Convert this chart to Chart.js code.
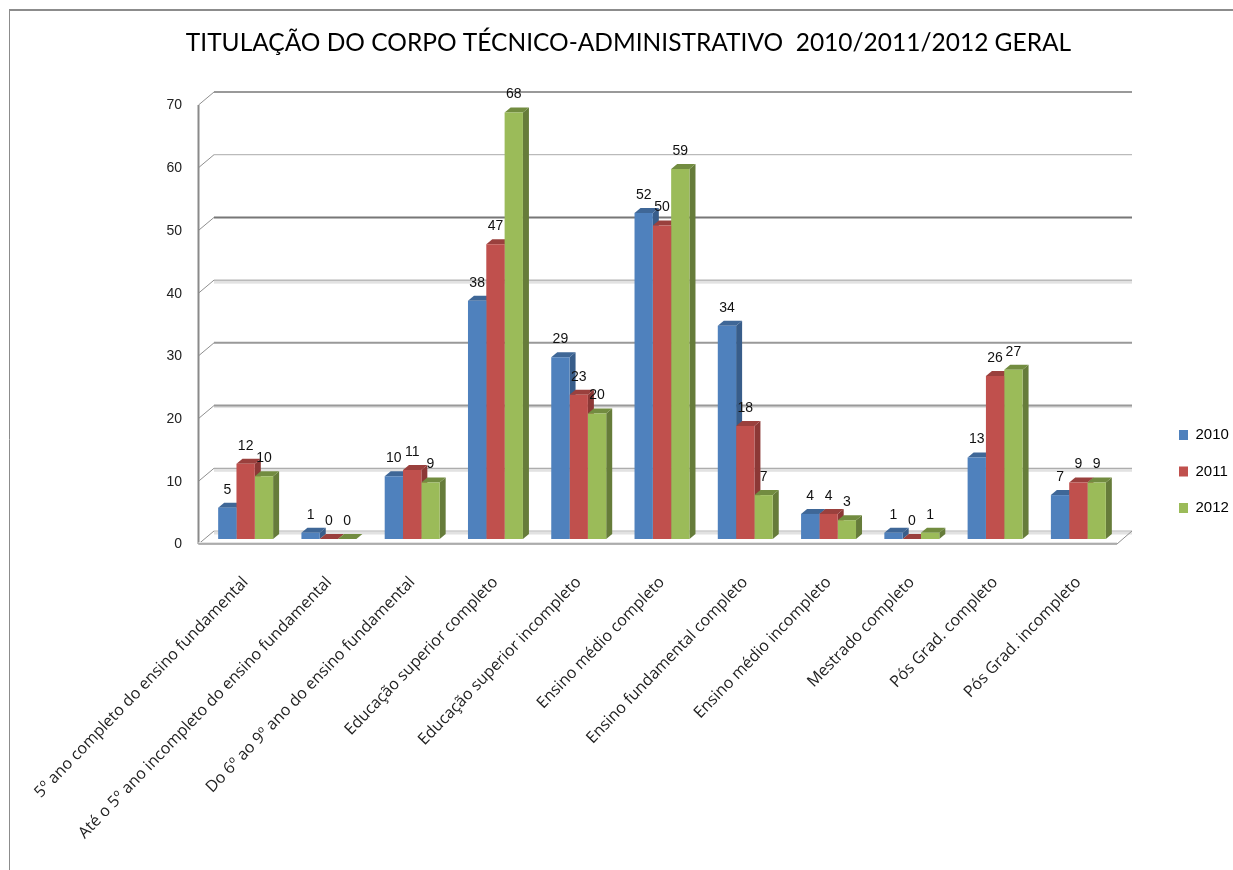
<!DOCTYPE html>
<html lang="pt">
<head>
<meta charset="utf-8">
<title>Titulação do corpo técnico-administrativo</title>
<script src="https://cdn.jsdelivr.net/npm/chart.js@4"></script>
<style>
html,body{margin:0;padding:0;background:#fff;overflow:hidden}
#wrap{position:relative;width:1233px;height:870px}
</style>
</head>
<body>
<div id="wrap"><canvas id="c" width="1233" height="870"></canvas></div>
<script>
const categories = [
  "5º ano completo do ensino fundamental",
  "Até o 5º ano incompleto do ensino fundamental",
  "Do 6º ao 9º ano do ensino fundamental",
  "Educação superior completo",
  "Educação superior incompleto",
  "Ensino médio completo",
  "Ensino fundamental completo",
  "Ensino médio incompleto",
  "Mestrado completo",
  "Pós Grad. completo",
  "Pós Grad. incompleto"
];
const values2010 = [5, 1, 10, 38, 29, 52, 34, 4, 1, 13, 7];
const values2011 = [12, 0, 11, 47, 23, 50, 18, 4, 0, 26, 9];
const values2012 = [10, 0, 9, 68, 20, 59, 7, 3, 1, 27, 9];
const titleText = "TITULAÇÃO DO CORPO TÉCNICO-ADMINISTRATIVO  2010/2011/2012 GERAL";

const palette = [
  {front:"#4F81BD", side:"#385D8A", top:"#3F6797"},
  {front:"#C0504D", side:"#8C3836", top:"#9A403D"},
  {front:"#9BBB59", side:"#667C3A", top:"#728C40"}
];
const gridLook = {
  70:{w:2,c:"#999999",band:0},
  60:{w:1,c:"#aaaaaa",band:0},
  50:{w:2,c:"#777777",band:0},
  40:{w:1,c:"#999999",band:3},
  30:{w:2,c:"#999999",band:0},
  20:{w:2,c:"#999999",band:2},
  10:{w:1,c:"#999999",band:3},
  0:{w:1,c:"#b5b5b5",band:3}
};
const DX = 6, DY = 5;           // bar depth
const WALL_DY = 8;              // wall offset from the plot area
const FRONT_X = 198.5, FRONT_DY = 5;

function poly(ctx, pts, fill){
  ctx.beginPath();
  pts.forEach((p,i)=> i ? ctx.lineTo(p[0],p[1]) : ctx.moveTo(p[0],p[1]));
  ctx.closePath();
  ctx.fillStyle = fill;
  ctx.fill();
}
function seg(ctx,x1,y1,x2,y2,w,c){
  ctx.beginPath();ctx.moveTo(x1,y1);ctx.lineTo(x2,y2);
  ctx.lineWidth=w;ctx.strokeStyle=c;ctx.stroke();
}

const box3d = {
  id:"box3d",
  beforeLayout(chart){
    const lg = chart.legend;
    if(lg && !lg._wrapped){
      const fit = lg.fit.bind(lg);
      lg.fit = function(){ fit(); this.width = 113; };
      lg._wrapped = true;
    }
  },
  afterLayout(chart){
    const lg = chart.legend;
    const w = 76, h = lg.height;
    lg.left = 1157.5; lg.right = lg.left + w; lg.width = w;
    lg.top = 406; lg.bottom = lg.top + h;
  },
  beforeDraw(chart){
    const ctx = chart.ctx;
    ctx.save();
    seg(ctx,9,10,1233,10,2,"#8c8c8c");
    seg(ctx,9.5,9,9.5,870,1,"#8c8c8c");
    ctx.restore();
  },
  beforeDatasetsDraw(chart){
    const ctx = chart.ctx, y = chart.scales.y;
    const backL = FRONT_X + 15.5, backR = 1132;
    ctx.save();
    y.ticks.forEach(t=>{
      const py = y.getPixelForValue(t.value);
      const look = gridLook[t.value] || gridLook[10];
      const by = py - WALL_DY, fy = py + FRONT_DY;
      if(look.band){ ctx.fillStyle="#e2e2e2"; ctx.fillRect(backL,by+0.5,backR-backL,look.band); }
      seg(ctx,backL,by,backR,by,look.w,look.c);
      seg(ctx,FRONT_X,fy,backL,by,1,"#8f8f8f");
    });
    // left wall edge, floor front edge, floor right edge
    const y0 = y.getPixelForValue(0), y70 = y.getPixelForValue(70);
    const frontR = 1117;
    seg(ctx,FRONT_X,y70+FRONT_DY,FRONT_X,y0+FRONT_DY,2,"#8a8a8a");
    ctx.fillStyle="#e4e4e4"; ctx.fillRect(FRONT_X,y0+FRONT_DY-2,frontR-FRONT_X,2);
    seg(ctx,FRONT_X,y0+FRONT_DY,frontR,y0+FRONT_DY,1.5,"#9a9a9a");
    seg(ctx,frontR,y0+FRONT_DY,backR,y0-WALL_DY,1,"#8f8f8f");
    // depth faces of each bar, left to right
    chart.data.datasets.forEach((ds,di)=>{
      chart.getDatasetMeta(di).data.forEach(bar=>{
        const p = bar.getProps(["x","y","base","width"],true);
        const l = p.x - p.width/2, r = p.x + p.width/2;
        poly(ctx,[[r,p.y],[r+DX,p.y-DY],[r+DX,p.base-DY],[r,p.base]],palette[di].side);
        poly(ctx,[[l,p.y],[l+DX,p.y-DY],[r+DX,p.y-DY],[r,p.y]],palette[di].top);
      });
    });
    ctx.restore();
  },
  afterDatasetsDraw(chart){
    const ctx = chart.ctx;
    ctx.save();
    ctx.font = "14px 'Liberation Sans'";
    ctx.fillStyle = "#111";
    ctx.textAlign = "center";
    ctx.textBaseline = "middle";
    chart.data.datasets.forEach((ds,di)=>{
      chart.getDatasetMeta(di).data.forEach((bar,i)=>{
        const p = bar.getProps(["x","y"],true);
        ctx.fillText(String(ds.data[i]), p.x, p.y - 18);
      });
    });
    ctx.restore();
  }
};

new Chart(document.getElementById("c"),{
  type:"bar",
  data:{
    labels:categories,
    datasets:[
      {label:"2010",data:values2010,backgroundColor:palette[0].front},
      {label:"2011",data:values2011,backgroundColor:palette[1].front},
      {label:"2012",data:values2012,backgroundColor:palette[2].front}
    ]
  },
  options:{
    responsive:false,
    animation:false,
    layout:{padding:{left:24,right:0,top:0,bottom:0}},
    datasets:{bar:{categoryPercentage:0.66,barPercentage:1,borderWidth:0}},
    plugins:{
      title:{
        display:true,
        text:titleText,
        color:"#000",
        font:{family:"Lato",size:24.5,weight:"normal"},
        padding:{top:28,bottom:42.6}
      },
      legend:{
        display:true,
        position:"right",
        align:"start",
        labels:{
          boxWidth:9,boxHeight:10,padding:21.5,
          color:"#000",
          font:{family:"'Liberation Sans'",size:15}
        }
      },
      tooltip:{enabled:false}
    },
    scales:{
      x:{
        grid:{display:false,drawTicks:false},
        border:{display:false},
        afterFit(s){ s.height = 331; s.paddingLeft = 0; s.paddingRight = 0; },
        ticks:{
          autoSkip:false,minRotation:46,maxRotation:46,padding:34,
          color:"#222",
          font:{family:"'Open Sans'",size:16}
        }
      },
      y:{
        min:0,max:70,
        grid:{display:false,drawTicks:false},
        border:{display:false},
        afterFit(s){ s.width = 180; },
        ticks:{
          stepSize:10,padding:22,labelOffset:5.5,
          color:"#222",
          font:{family:"'Liberation Sans'",size:14}
        }
      }
    }
  },
  plugins:[box3d]
});
</script>
</body>
</html>
